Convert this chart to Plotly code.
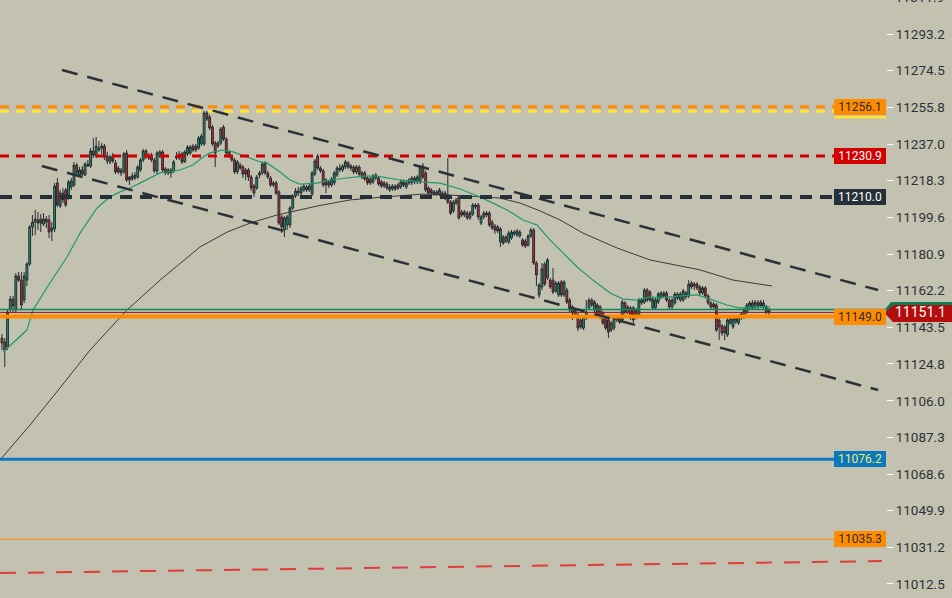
import plotly.graph_objects as go

BG = "#c3c1b0"

# ---------------- candle data (price) ----------------
open_ = [
    # A
    11138.0, 11136.0, 11133.4, 11152.8, 11157.9, 11152.3, 11169.7, 11167.6, 11157.4, 11167.6, 11175.8, 11194.7, 11197.2, 11198.3, 11198.8, 11196.2,
    11198.8, 11198.3, 11192.7, 11193.7, 11217.2, 11205.4, 11212.0, 11213.6, 11209.5, 11215.1, 11216.1, 11226.3, 11221.2, 11223.8, 11221.2, 11225.8,
    11225.8, 11233.5, 11230.9, 11234.0, 11235.0, 11236.0, 11230.9, 11227.9, 11230.9, 11227.4, 11224.8, 11223.8, 11222.8, 11232.5, 11220.2,
    # B
    11219.2, 11219.7, 11220.2, 11223.8, 11228.9, 11233.5, 11229.9, 11230.9, 11228.9, 11223.3, 11230.9, 11233.0, 11224.3, 11223.8, 11222.3, 11223.3,
    11229.9, 11229.9, 11232.0, 11227.9, 11232.0, 11232.5, 11236.0, 11236.0, 11235.0, 11237.1, 11237.1, 11252.9, 11250.8, 11245.7, 11237.6, 11236.0,
    11237.6, 11245.7, 11239.6, 11233.0, 11230.4, 11228.9, 11222.8, 11226.3, 11225.3, 11223.8, 11223.8,
    # C
    11220.2, 11215.6, 11214.6, 11222.3, 11222.3, 11227.4, 11222.3, 11219.7, 11216.1, 11217.2, 11212.6, 11199.8, 11193.2, 11195.7, 11195.7, 11204.4,
    11210.5, 11213.1, 11212.0, 11213.6, 11215.1, 11213.6, 11211.5, 11221.7, 11230.9, 11224.8, 11223.3, 11218.7, 11217.7, 11216.1, 11217.2, 11221.2,
    11224.8, 11223.8, 11225.3, 11227.4, 11225.8, 11225.3, 11222.8, 11225.3, 11222.3, 11222.3, 11219.7, 11219.2, 11217.7, 11219.7, 11219.7, 11217.7,
    11217.2, 11216.6,
    # D
    11213.6, 11214.1, 11215.6, 11216.1, 11215.1, 11217.7, 11215.1, 11217.2, 11217.2, 11219.7, 11217.7, 11217.7, 11225.8, 11222.3, 11214.6, 11213.6,
    11211.5, 11212.6, 11211.5, 11212.0, 11212.0, 11211.0, 11207.4, 11202.9, 11206.9, 11210.0, 11202.4, 11200.8, 11201.8, 11199.3, 11201.3, 11204.9,
    11205.9, 11196.7, 11199.8, 11201.8, 11201.8, 11197.2, 11195.2, 11194.7, 11187.0, 11189.6, 11187.5, 11187.0, 11189.1, 11191.1, 11190.6, 11190.1,
    11188.1, 11187.5, 11185.5, 11190.1, 11193.2,
    # E
    11176.3, 11160.0, 11164.1, 11175.8, 11168.7, 11167.6, 11167.6, 11162.0, 11160.0, 11166.6, 11160.0, 11162.5, 11157.4, 11153.9, 11149.3, 11149.8,
    11147.2, 11143.1, 11148.2, 11153.4, 11157.4, 11152.3, 11154.9, 11153.9, 11150.8, 11148.2, 11147.2, 11142.1, 11143.1, 11147.2, 11148.8, 11147.2,
    11155.9, 11151.3, 11153.4, 11153.4, 11148.8, 11149.8, 11155.9, 11156.4, 11162.5, 11161.5, 11153.4, 11153.4, 11156.4, 11159.0, 11161.0, 11161.0,
    11157.4, 11153.9, 11155.9, 11160.5, 11157.4, 11157.4, 11161.0, 11159.5, 11166.1, 11165.6, 11165.6, 11164.1, 11161.0, 11163.6, 11159.5, 11155.9,
    11155.4, 11154.9, 11147.2, 11144.2, 11143.7, 11139.6, 11145.7, 11143.7, 11146.2, 11145.7, 11148.2, 11148.8, 11151.3, 11153.4, 11155.9, 11153.9,
    11153.9, 11156.4, 11153.9, 11153.9, 11152.3,
]
high = [
    # A
    11140.1, 11138.0, 11152.3, 11159.5, 11159.5, 11171.2, 11171.7, 11171.7, 11171.7, 11176.8, 11195.7, 11200.8, 11203.4, 11202.4, 11201.3, 11201.8,
    11200.3, 11200.8, 11197.2, 11217.2, 11219.7, 11213.6, 11214.6, 11214.6, 11218.7, 11219.7, 11227.9, 11227.4, 11225.3, 11225.8, 11227.9, 11228.9,
    11235.0, 11240.1, 11240.6, 11238.6, 11237.6, 11237.1, 11233.0, 11231.4, 11232.5, 11228.9, 11225.8, 11224.8, 11233.0, 11234.0, 11220.7,
    # B
    11222.3, 11222.8, 11226.3, 11229.9, 11234.5, 11234.5, 11232.5, 11232.5, 11229.9, 11233.5, 11234.0, 11234.0, 11225.3, 11224.8, 11224.8, 11228.9,
    11233.0, 11233.5, 11233.0, 11234.0, 11236.5, 11236.5, 11237.1, 11237.1, 11241.1, 11242.2, 11253.9, 11253.9, 11251.9, 11246.8, 11238.6, 11238.6,
    11245.7, 11246.8, 11240.6, 11234.0, 11231.4, 11229.9, 11228.9, 11227.4, 11226.3, 11224.8, 11224.8,
    # C
    11221.2, 11216.6, 11221.2, 11223.3, 11227.9, 11228.4, 11223.3, 11220.7, 11218.2, 11218.2, 11213.6, 11200.8, 11200.3, 11200.8, 11205.4, 11211.5,
    11214.6, 11215.1, 11215.6, 11216.6, 11216.1, 11216.6, 11223.3, 11229.4, 11232.0, 11225.8, 11224.3, 11219.7, 11218.7, 11220.2, 11223.3, 11225.8,
    11226.8, 11226.8, 11228.9, 11228.4, 11226.8, 11226.3, 11226.3, 11226.3, 11223.3, 11223.3, 11220.7, 11220.2, 11221.7, 11222.3, 11220.7, 11218.7,
    11218.2, 11217.7,
    # D
    11216.6, 11216.6, 11216.6, 11217.2, 11218.7, 11218.7, 11218.2, 11219.7, 11220.7, 11220.7, 11221.2, 11226.3, 11227.4, 11223.3, 11215.6, 11214.6,
    11213.6, 11213.6, 11214.6, 11213.1, 11213.1, 11229.9, 11208.5, 11208.5, 11209.5, 11211.0, 11203.4, 11203.4, 11202.9, 11202.9, 11206.9, 11206.9,
    11206.9, 11200.8, 11202.9, 11202.9, 11202.9, 11198.3, 11196.2, 11195.7, 11194.7, 11190.6, 11190.6, 11192.7, 11193.2, 11193.2, 11193.7, 11193.2,
    11189.1, 11188.6, 11191.1, 11194.2, 11194.2,
    # E
    11177.3, 11166.1, 11176.3, 11176.8, 11178.9, 11168.7, 11173.8, 11167.1, 11167.1, 11167.6, 11167.6, 11163.6, 11158.5, 11154.9, 11153.4, 11150.8,
    11148.2, 11149.8, 11157.4, 11158.5, 11158.5, 11157.4, 11155.9, 11154.9, 11151.8, 11149.3, 11148.2, 11146.7, 11149.3, 11149.8, 11149.8, 11157.4,
    11156.9, 11154.9, 11154.4, 11154.4, 11153.4, 11158.5, 11158.5, 11163.6, 11163.6, 11162.5, 11159.0, 11158.5, 11161.5, 11162.0, 11162.0, 11162.0,
    11158.5, 11158.5, 11161.5, 11161.5, 11161.5, 11163.1, 11162.0, 11167.6, 11167.1, 11166.6, 11166.6, 11165.1, 11164.6, 11164.6, 11160.5, 11156.9,
    11156.4, 11155.9, 11148.2, 11145.2, 11144.7, 11148.2, 11148.8, 11148.8, 11149.3, 11149.8, 11151.3, 11153.4, 11155.9, 11156.9, 11157.4, 11157.4,
    11157.4, 11157.4, 11157.4, 11154.9, 11153.4,
]
low = [
    # A
    11131.9, 11123.2, 11131.9, 11151.3, 11151.3, 11150.8, 11166.6, 11152.3, 11155.9, 11164.6, 11174.8, 11190.1, 11190.6, 11193.2, 11192.1, 11195.2,
    11194.2, 11189.1, 11187.5, 11192.1, 11204.9, 11204.4, 11206.9, 11204.9, 11208.5, 11213.6, 11215.1, 11220.7, 11220.2, 11220.7, 11220.7, 11225.3,
    11224.8, 11229.9, 11229.9, 11233.0, 11232.0, 11228.9, 11226.8, 11226.8, 11227.4, 11221.7, 11221.7, 11220.7, 11221.7, 11217.7, 11216.1,
    # B
    11218.2, 11218.7, 11219.2, 11222.8, 11227.9, 11229.4, 11228.9, 11227.9, 11222.3, 11221.7, 11229.9, 11222.8, 11221.2, 11221.2, 11219.7, 11222.3,
    11228.9, 11228.9, 11226.8, 11227.4, 11230.9, 11231.4, 11233.0, 11233.0, 11234.0, 11236.0, 11236.0, 11248.8, 11244.2, 11236.0, 11225.3, 11235.0,
    11236.5, 11238.6, 11231.4, 11229.9, 11227.9, 11221.7, 11221.7, 11223.8, 11219.7, 11218.7, 11218.2,
    # C
    11213.1, 11210.0, 11213.6, 11219.7, 11221.2, 11221.2, 11219.2, 11215.1, 11215.1, 11211.0, 11195.7, 11191.6, 11189.6, 11193.2, 11194.2, 11203.4,
    11209.5, 11210.5, 11211.0, 11212.6, 11212.6, 11212.6, 11210.5, 11220.7, 11223.8, 11222.3, 11215.1, 11212.0, 11214.6, 11215.1, 11216.1, 11220.2,
    11222.8, 11222.8, 11224.3, 11224.3, 11223.3, 11221.7, 11221.7, 11220.7, 11219.2, 11218.2, 11216.1, 11216.1, 11216.6, 11218.7, 11215.6, 11214.6,
    11214.6, 11213.6,
    # D
    11212.6, 11213.1, 11213.1, 11213.6, 11214.1, 11215.1, 11214.1, 11216.1, 11216.1, 11216.6, 11216.6, 11216.6, 11219.2, 11212.6, 11211.0, 11211.0,
    11210.5, 11210.5, 11210.5, 11210.0, 11208.5, 11206.4, 11200.8, 11201.8, 11205.9, 11198.3, 11199.8, 11199.8, 11198.3, 11198.3, 11200.3, 11203.9,
    11198.3, 11195.7, 11198.8, 11199.8, 11194.7, 11193.2, 11191.1, 11191.6, 11184.5, 11185.5, 11186.5, 11186.0, 11188.1, 11190.1, 11189.6, 11189.1,
    11184.5, 11184.0, 11184.5, 11189.1, 11175.3,
    # E
    11164.6, 11158.5, 11162.5, 11164.6, 11167.6, 11163.1, 11160.5, 11161.0, 11159.0, 11159.0, 11159.0, 11155.4, 11151.3, 11147.2, 11148.2, 11141.6,
    11142.6, 11142.1, 11147.2, 11152.3, 11153.9, 11151.3, 11150.3, 11147.7, 11144.7, 11142.1, 11138.0, 11141.1, 11142.1, 11146.2, 11145.2, 11146.2,
    11150.3, 11150.3, 11147.2, 11145.7, 11147.7, 11148.8, 11154.9, 11155.4, 11156.4, 11156.4, 11152.3, 11152.3, 11155.4, 11157.9, 11158.5, 11156.4,
    11152.8, 11152.8, 11154.9, 11157.4, 11156.4, 11156.4, 11157.9, 11158.5, 11163.1, 11162.5, 11162.5, 11160.0, 11160.0, 11158.5, 11154.9, 11152.8,
    11152.8, 11141.1, 11137.0, 11139.1, 11137.0, 11138.6, 11144.7, 11142.6, 11145.2, 11144.7, 11147.2, 11147.7, 11150.3, 11152.3, 11152.3, 11152.8,
    11152.8, 11153.4, 11152.8, 11150.3, 11149.8,
]
close = [
    # A
    11135.5, 11131.9, 11151.3, 11157.9, 11154.4, 11169.7, 11167.6, 11154.9, 11169.7, 11175.8, 11194.7, 11197.2, 11198.8, 11196.7, 11196.7, 11198.8,
    11197.2, 11192.1, 11194.2, 11215.6, 11205.9, 11212.0, 11208.5, 11205.9, 11217.7, 11218.2, 11226.3, 11222.3, 11223.8, 11221.7, 11226.8, 11226.8,
    11233.5, 11231.4, 11236.0, 11235.0, 11236.0, 11230.4, 11228.4, 11230.4, 11228.4, 11222.8, 11222.8, 11222.3, 11232.0, 11218.7, 11218.7,
    # B
    11220.7, 11221.2, 11225.3, 11228.9, 11233.5, 11230.9, 11230.9, 11228.9, 11223.3, 11232.5, 11233.0, 11223.8, 11222.3, 11222.3, 11223.8, 11227.9,
    11230.9, 11232.0, 11227.9, 11233.0, 11235.5, 11235.5, 11234.0, 11234.0, 11240.1, 11241.1, 11252.9, 11249.8, 11245.2, 11237.1, 11232.5, 11237.6,
    11244.7, 11239.6, 11232.5, 11231.4, 11228.9, 11222.8, 11227.9, 11224.8, 11221.7, 11221.7, 11220.2,
    # C
    11214.6, 11212.0, 11220.2, 11221.2, 11226.8, 11222.3, 11220.2, 11216.1, 11217.2, 11212.0, 11196.7, 11194.7, 11199.3, 11199.8, 11204.4, 11210.5,
    11213.1, 11212.0, 11214.6, 11215.6, 11213.6, 11215.6, 11222.3, 11228.4, 11224.8, 11223.3, 11216.1, 11216.1, 11216.1, 11219.2, 11222.3, 11224.8,
    11223.8, 11225.8, 11227.9, 11225.3, 11224.8, 11222.8, 11225.3, 11221.7, 11220.2, 11219.2, 11217.2, 11217.2, 11220.7, 11221.2, 11216.6, 11215.6,
    11215.6, 11214.6,
    # D
    11215.1, 11215.6, 11214.1, 11214.6, 11217.7, 11216.1, 11217.2, 11218.7, 11219.7, 11217.7, 11220.2, 11225.3, 11220.2, 11213.6, 11212.0, 11212.0,
    11212.6, 11211.5, 11213.6, 11211.0, 11209.5, 11207.4, 11201.8, 11207.4, 11208.5, 11199.3, 11200.8, 11202.4, 11199.3, 11201.8, 11205.9, 11205.9,
    11199.8, 11199.8, 11201.8, 11200.8, 11195.7, 11194.2, 11193.2, 11192.7, 11193.7, 11186.5, 11189.6, 11191.6, 11192.1, 11192.1, 11192.7, 11192.1,
    11185.5, 11185.0, 11190.1, 11193.2, 11176.3,
    # E
    11170.2, 11165.1, 11173.3, 11165.6, 11177.9, 11164.1, 11161.5, 11166.1, 11166.1, 11160.0, 11166.6, 11156.4, 11152.3, 11150.8, 11152.3, 11143.1,
    11143.7, 11148.8, 11151.3, 11157.4, 11154.9, 11156.4, 11151.3, 11148.8, 11145.7, 11143.1, 11141.1, 11145.7, 11148.2, 11148.8, 11146.2, 11156.4,
    11151.3, 11153.9, 11148.2, 11147.2, 11152.3, 11157.4, 11157.4, 11162.5, 11157.4, 11157.4, 11157.9, 11157.4, 11160.5, 11161.0, 11159.5, 11157.4,
    11153.9, 11157.4, 11160.5, 11158.5, 11160.5, 11162.0, 11159.0, 11165.6, 11164.1, 11164.6, 11163.6, 11161.0, 11163.6, 11159.5, 11155.9, 11153.9,
    11153.9, 11142.1, 11143.7, 11140.6, 11140.6, 11147.2, 11147.7, 11147.7, 11148.2, 11148.8, 11150.3, 11152.3, 11154.9, 11155.9, 11153.4, 11156.4,
    11155.9, 11154.4, 11155.9, 11151.3, 11151.1,
]
assert len(open_) == len(high) == len(low) == len(close), (len(open_), len(high), len(low), len(close))
bar_index = list(range(len(close)))

# ---------------- moving averages (bar index, price) ----------------
ma_fast_x = [0.4, 9.0, 11.2, 17.3, 23.5, 28.2, 34.3, 39.0, 42.6, 46.2, 49.8, 57.1, 64.3, 69.0, 72.6, 75.1, 79.8, 83.4, 88.5,
             93.2, 95.7, 100.4, 104.0, 107.6, 113.8, 118.5, 124.6, 130.4, 135.4, 140.1, 143.7, 151.0, 158.2, 165.4, 172.6, 177.3,
             182.4, 188.2, 193.2, 197.9, 202.6, 207.7, 213.4, 219.6, 224.3, 229.3, 234.0, 237.6, 244.9, 251.0, 256.8, 261.8,
             266.5, 271.2, 277.4]
ma_fast_y = [11130.9, 11142.1, 11152.3, 11166.1, 11179.4, 11191.6, 11204.4, 11210.0, 11212.6, 11214.6, 11217.1, 11222.3, 11223.8,
             11226.3, 11230.4, 11232.5, 11234.0, 11233.0, 11230.4, 11227.9, 11227.4, 11222.8, 11218.7, 11216.6, 11217.1, 11218.7,
             11219.7, 11220.7, 11220.7, 11219.7, 11218.7, 11217.7, 11217.1, 11214.1, 11210.0, 11206.9, 11203.4, 11198.3, 11195.7,
             11188.1, 11181.4, 11174.3, 11167.6, 11161.0, 11157.9, 11157.4, 11159.0, 11158.5, 11159.5, 11160.0, 11157.4, 11154.9,
             11153.3, 11153.9, 11153.9]
ma_slow_x = [-0.72, 10.1, 20.9, 31.8, 45.1, 57.1, 71.5, 81.3, 89.6, 99.3, 113.8, 125.7, 137.6, 152.0, 161.8, 171.5, 179.8, 187.1,
             194.3, 201.5, 209.8, 222.1, 234.0, 252.1, 264.0, 278.1]
ma_slow_y = [11075.8, 11093.6, 11112.5, 11131.9, 11152.3, 11167.6, 11184.5, 11192.1, 11196.7, 11200.8, 11205.4, 11208.5, 11210.0,
             11211.5, 11211.0, 11210.0, 11209.5, 11206.9, 11202.9, 11198.3, 11191.6, 11184.0, 11177.9, 11172.8, 11167.6, 11164.6]

# ---------------- levels & trend lines ----------------
level_values = [11256.1, 11230.9, 11210.0, 11149.0, 11076.2, 11035.3]
level_colors = ["#ff8c00", "#d40000", "#263038", "#ff8c00", "#0a78be", "#ff8c00"]
level_text_colors = ["#2b2b2b", "#ffffff", "#ffffff", "#2b2b2b", "#f2e86a", "#2b2b2b"]
level_widths = [3, 3, 4, 4, 3, 1]
level_dashes = ["9px,7px", "9px,7px", "12px,8px", "solid", "solid", "solid"]
yellow_level = 11253.8
bid_level = 11152.6
last_price = 11151.1

channel_upper_x = [21.7, 316.4]
channel_upper_y = [11274.8, 11162.5]
channel_lower_x = [14.4, 316.4]
channel_lower_y = [11225.8, 11111.5]
support_x = [-0.72, 317.8]
support_y = [11018.1, 11024.2]

tick_vals = [11012.5, 11031.2, 11049.9, 11068.6, 11087.3, 11106.0, 11124.8, 11143.5, 11162.2, 11180.9,
             11199.6, 11218.3, 11237.0, 11255.8, 11274.5, 11293.2]
tick_text = ["%.1f" % v for v in tick_vals]
top_tick_text = "11311.9"

fig = go.Figure()
fig.add_trace(go.Candlestick(
    x=bar_index, open=open_, high=high, low=low, close=close,
    increasing=dict(line=dict(color="#252c32", width=1), fillcolor="#1c9b6b"),
    decreasing=dict(line=dict(color="#252c32", width=1), fillcolor="#d6242d"),
    whiskerwidth=0, hoverinfo="skip",
))
fig.add_trace(go.Scatter(x=ma_slow_x, y=ma_slow_y, mode="lines", line=dict(color="#3a3a3a", width=1), hoverinfo="skip"))
fig.add_trace(go.Scatter(x=ma_fast_x, y=ma_fast_y, mode="lines", line=dict(color="#1f9a6c", width=1.2), hoverinfo="skip"))

shapes = []
shapes.append(dict(type="line", xref="paper", x0=0, x1=1, yref="y", y0=yellow_level, y1=yellow_level,
                   line=dict(color="#ffe23a", width=3, dash="9px,7px")))
for v, c, w, d in zip(level_values, level_colors, level_widths, level_dashes):
    shapes.append(dict(type="line", xref="paper", x0=0, x1=1, yref="y", y0=v, y1=v,
                       line=dict(color=c, width=w, dash=d)))
shapes.append(dict(type="line", xref="paper", x0=0, x1=1, yref="y", y0=bid_level, y1=bid_level,
                   line=dict(color="#0c8a5c", width=1.5)))
shapes.append(dict(type="line", xref="paper", x0=0, x1=1, yref="y", y0=last_price, y1=last_price,
                   line=dict(color="#9e1212", width=1)))
for xs, ys in [(channel_upper_x, channel_upper_y), (channel_lower_x, channel_lower_y)]:
    shapes.append(dict(type="line", xref="x", yref="y", x0=xs[0], x1=xs[1], y0=ys[0], y1=ys[1],
                       line=dict(color="#2b3237", width=2.5, dash="16px,10px")))
shapes.append(dict(type="line", xref="x", yref="y", x0=support_x[0], x1=support_x[1], y0=support_y[0], y1=support_y[1],
                   line=dict(color="#e23c3c", width=2, dash="16px,12px")))

def px(xp):
    return xp / 886
def py(yp):
    return 1 - yp / 598

shapes.append(dict(type="rect", xref="paper", yref="paper", x0=px(834), x1=1, y0=py(118.5), y1=py(116),
                   fillcolor="#ffe23a", line=dict(width=0)))
shapes.append(dict(type="path", xref="paper", yref="paper", fillcolor="#b30d0d", line=dict(width=0),
                   path=f"M {px(884)} {py(312.5)} L {px(893)} {py(303)} L {px(952)} {py(303)} L {px(952)} {py(322)} L {px(893)} {py(322)} Z"))
shapes.append(dict(type="path", xref="paper", yref="paper", fillcolor="#0c7e52", line=dict(width=0),
                   path=f"M {px(884)} {py(310.5)} L {px(891)} {py(302)} L {px(952)} {py(302)} L {px(952)} {py(305)} L {px(893)} {py(305)} L {px(886)} {py(312)} Z"))
# tick mark of the partly hidden top label
shapes.append(dict(type="line", xref="paper", yref="paper", x0=px(886), x1=px(892), y0=py(-3), y1=py(-3),
                   line=dict(color="#ffffff", width=1)))

annotations = []
for v, c, tc in zip(level_values, level_colors, level_text_colors):
    annotations.append(dict(xref="paper", x=1, xanchor="right", yref="y", y=v, yanchor="middle",
                            text="%.1f" % v, showarrow=False, bgcolor=c, borderpad=2, borderwidth=0,
                            width=48, height=12, align="center",
                            font=dict(family="Roboto", size=12, color=tc)))
annotations.append(dict(xref="paper", x=px(920), xanchor="center", yref="y", y=last_price, yanchor="middle",
                        text="%.1f" % last_price, showarrow=False,
                        font=dict(family="Roboto", size=14, color="#ffffff")))
annotations.append(dict(xref="paper", x=px(894), xanchor="left", yref="paper", y=py(-3), yanchor="middle",
                        text=top_tick_text, showarrow=False, borderpad=0,
                        font=dict(family="Roboto", size=13.5, color="#2c3338")))

fig.update_layout(
    width=952, height=598,
    margin=dict(l=0, r=66, t=0, b=0),
    paper_bgcolor=BG, plot_bgcolor=BG,
    showlegend=False, boxgap=0.05,
    shapes=shapes, annotations=annotations,
    xaxis=dict(range=[-0.72, 319.25], visible=False, rangeslider=dict(visible=False), fixedrange=True),
    yaxis=dict(range=[11005.35, 11310.55], side="right", tickvals=tick_vals, ticktext=tick_text,
               ticks="outside", ticklen=6, tickwidth=1, tickcolor="#ffffff",
               showgrid=False, zeroline=False, showline=False, fixedrange=True,
               tickfont=dict(family="Roboto", size=13.5, color="#2c3338")),
)
fig.write_html("out.html", config={"displayModeBar": False, "staticPlot": True},
               post_script="document.body.style.margin='0';document.body.style.background='" + BG + "';")
